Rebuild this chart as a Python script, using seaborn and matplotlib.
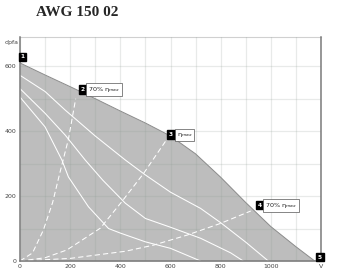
import matplotlib
matplotlib.use("Agg")
import matplotlib.pyplot as plt
import seaborn as sns
import pandas as pd
from matplotlib.ticker import MultipleLocator, FixedLocator

# ---- data ----
title = "AWG 150 02"

env_flow = [0, 100, 200, 300, 400, 500, 600, 700, 800, 900, 1000, 1100, 1175]
env_pres = [610, 573, 537, 500, 462, 425, 385, 330, 258, 180, 106, 44, 0]

spdA_flow = [0, 100, 180, 300, 420, 500, 600, 720, 800, 900, 990]
spdA_pres = [572, 522, 465, 385, 311, 265, 212, 162, 118, 58, 0]
spdB_flow = [0, 100, 180, 260, 330, 420, 500, 600, 720, 840, 890]
spdB_pres = [531, 455, 388, 311, 249, 178, 131, 104, 70, 25, 0]
spdC_flow = [0, 100, 167, 193, 273, 353, 400, 500, 600, 720]
spdC_pres = [505, 413, 311, 259, 167, 100, 86, 59, 39, 0]

eff1_flow = [0, 50, 93, 130, 160, 193, 222]
eff1_pres = [0, 25, 95, 180, 275, 375, 500]
eff2_flow = [0, 100, 187, 320, 400, 493, 590]
eff2_pres = [0, 10, 34, 101, 177, 270, 380]
eff3_flow = [0, 200, 420, 533, 667, 800, 920]
eff3_pres = [0, 8, 30, 49, 80, 116, 154]

x_ticks = [0, 200, 400, 600, 800, 1000, 1200]
x_ticklabels = ["0", "200", "400", "600", "800", "1000", "V"]
y_ticks = [0, 200, 400, 600]
y_ticklabels = ["0", "200", "400", "600"]
y_unit = "dpfa"

marker_nums = ["1", "2", "3", "4", "5"]
marker_flow = [10, 250, 602, 956, 1195]
marker_pres = [629, 528, 389, 172, 12]
marker_text = ["", "70% \u03b7$_{max}$", "\u03b7$_{max}$", "70% \u03b7$_{max}$", ""]

# ---- build tables ----
speed_df = pd.concat([
    pd.DataFrame({"flow": spdA_flow, "p": spdA_pres, "curve": "A"}),
    pd.DataFrame({"flow": spdB_flow, "p": spdB_pres, "curve": "B"}),
    pd.DataFrame({"flow": spdC_flow, "p": spdC_pres, "curve": "C"}),
])
eff_df = pd.concat([
    pd.DataFrame({"flow": eff1_flow, "p": eff1_pres, "curve": "E1"}),
    pd.DataFrame({"flow": eff2_flow, "p": eff2_pres, "curve": "E2"}),
    pd.DataFrame({"flow": eff3_flow, "p": eff3_pres, "curve": "E3"}),
])

sns.set_style("white")
plt.rcParams["font.family"] = ["DejaVu Sans"]

fig = plt.figure(figsize=(3.41, 2.80), dpi=100)
ax = fig.add_axes([20 / 341, 19 / 280, 301 / 341, 224 / 280])

ax.set_xlim(0, 1200)
ax.set_ylim(0, 690)

# grid (drawn semi-transparent above the fill)
ax.xaxis.set_minor_locator(MultipleLocator(100))
ax.yaxis.set_minor_locator(MultipleLocator(100))
ax.grid(True, which="both", color="#8c9a92", alpha=0.2, linewidth=0.9)
ax.set_axisbelow(False)

# envelope
ax.fill_between(env_flow, env_pres, 0, color="#bdbdbd", linewidth=0, zorder=1)
sns.lineplot(x=env_flow, y=env_pres, ax=ax, color="#8a8a8a", linewidth=0.7,
             zorder=2, sort=False)

# speed curves
sns.lineplot(data=speed_df, x="flow", y="p", units="curve", estimator=None,
             sort=False, ax=ax, color="white", linewidth=0.75, zorder=3)
# efficiency curves
sns.lineplot(data=eff_df, x="flow", y="p", units="curve", estimator=None,
             sort=False, ax=ax, color="white", linewidth=0.75, zorder=3)
for line in ax.get_lines()[-3:]:
    line.set_dashes([5, 3])

# markers
for num, fx, fy, txt in zip(marker_nums, marker_flow, marker_pres, marker_text):
    ax.text(fx, fy, num, fontsize=4.2, color="white", fontweight="bold",
            ha="center", va="center", zorder=6,
            bbox=dict(boxstyle="square,pad=0.3", fc="black", ec="black"))
    if txt:
        ax.annotate(txt, (fx, fy), xytext=(4, 0), textcoords="offset points",
                    fontsize=4.6, color="#222", ha="left", va="center", zorder=6,
                    bbox=dict(boxstyle="square,pad=0.3", fc="white",
                              ec="#555", lw=0.5))

# axes styling
ax.xaxis.set_major_locator(FixedLocator(x_ticks))
ax.set_xticklabels(x_ticklabels)
ax.yaxis.set_major_locator(FixedLocator(y_ticks))
ax.set_yticklabels(y_ticklabels)
ax.tick_params(axis="both", which="major", labelsize=4.5, labelcolor="#444",
               length=1.5, width=0.6, color="#777", pad=1)
ax.tick_params(axis="both", which="minor", length=0)
ax.set_xlabel("")
ax.set_ylabel("")
ax.text(-0.006, 672, y_unit, fontsize=4.5, color="#444", ha="right",
        va="center", transform=ax.get_yaxis_transform())

for side in ["left", "bottom", "right"]:
    ax.spines[side].set_color("#7a7a7a")
    ax.spines[side].set_linewidth(1.1)
    ax.spines[side].set_zorder(5)
ax.spines["top"].set_color("#d0d0d0")
ax.spines["top"].set_linewidth(0.8)

fig.text(77 / 341, 1 - 12 / 280, title, fontsize=11, fontweight="bold",
         family="Liberation Serif", ha="center", va="center")

fig.savefig("out.png", dpi=100)
